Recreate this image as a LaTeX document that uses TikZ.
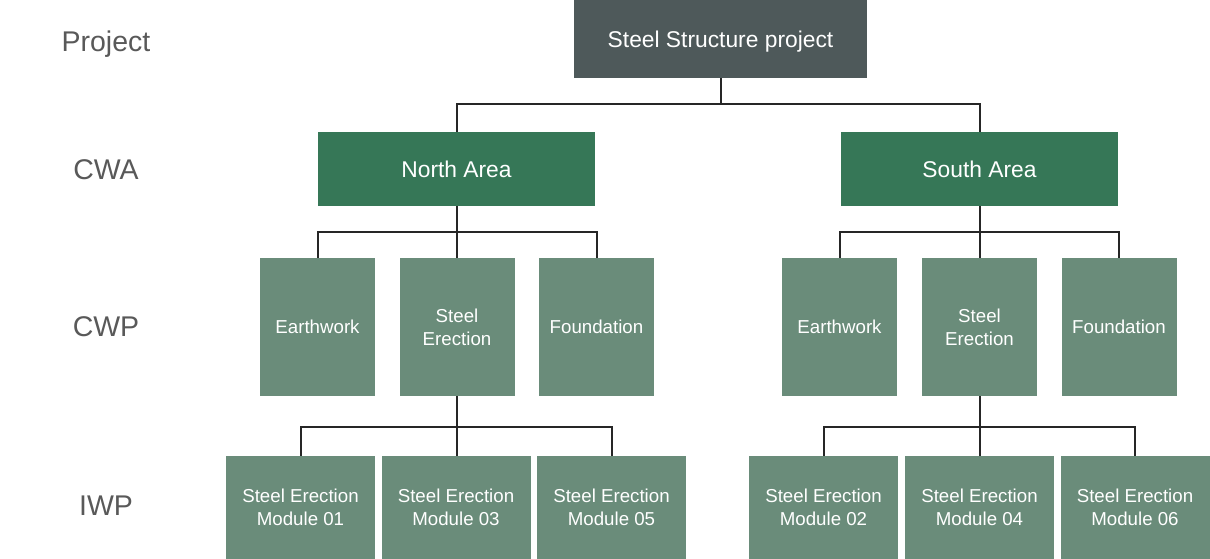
\documentclass[tikz,border=0pt]{standalone}
\usepackage{fontspec}
\setmainfont{Liberation Sans}
\definecolor{topc}{HTML}{4E595A}
\definecolor{areac}{HTML}{367757}
\definecolor{pkgc}{HTML}{6A8C7A}
\definecolor{labc}{HTML}{595959}
\begin{document}
\begin{tikzpicture}[x=1pt,y=-1pt,
  box/.style={draw=none,inner sep=0pt,align=center,text=white},
  topbox/.style={box,fill=topc,minimum width=293pt,minimum height=78pt,text depth=0pt,font=\fontsize{22.8}{26}\selectfont},
  areabox/.style={box,fill=areac,minimum width=277pt,minimum height=74pt,font=\fontsize{22.8}{26}\selectfont},
  cwpbox/.style={box,fill=pkgc,minimum width=115pt,minimum height=138pt,font=\fontsize{18.7}{23}\selectfont},
  iwpbox/.style={box,fill=pkgc,minimum width=149pt,minimum height=103pt,font=\fontsize{18.7}{23}\selectfont},
  lvl/.style={text=labc,text depth=0pt,font=\fontsize{28.5}{32}\selectfont},
  conn/.style={draw=black!85,line width=2pt}]
\useasboundingbox (0,0) rectangle (1210,559);
% levels
\node[lvl] (lp) at (106,41) {Project};
\node[lvl] (lcwa) at (106,169.5) {CWA};
\node[lvl] (lcwp) at (106,327) {CWP};
\node[lvl] (liwp) at (106,505.5) {IWP};
% nodes
\node[topbox] (top) at (720.5,39) {Steel Structure project};
\node[areabox] (na) at (456.5,169) {North Area};
\node[areabox] (sa) at (979.5,169) {South Area};
\node[cwpbox] (n1) at (317.5,327) {Earthwork};
\node[cwpbox] (n2) at (457,327) {Steel\\Erection};
\node[cwpbox] (n3) at (596.5,327) {Foundation};
\node[cwpbox] (s1) at (839.5,327) {Earthwork};
\node[cwpbox] (s2) at (979.5,327) {Steel\\Erection};
\node[cwpbox] (s3) at (1119,327) {Foundation};
\node[iwpbox] (m1) at (300.5,507.5) {Steel Erection\\Module 01};
\node[iwpbox] (m3) at (456,507.5) {Steel Erection\\Module 03};
\node[iwpbox] (m5) at (611.5,507.5) {Steel Erection\\Module 05};
\node[iwpbox] (m2) at (823.5,507.5) {Steel Erection\\Module 02};
\node[iwpbox] (m4) at (979.5,507.5) {Steel Erection\\Module 04};
\node[iwpbox] (m6) at (1135,507.5) {Steel Erection\\Module 06};
% connectors
\draw[conn] (top.south) -- ++(0,26) coordinate (tj);
\draw[conn] (na.north) |- (tj) -| (sa.north);
\draw[conn] (na.south) -- ++(0,26) coordinate (nj);
\draw[conn] (n1.north) |- (nj) -| (n3.north);
\draw[conn] (nj) -- (nj |- n2.north);
\draw[conn] (sa.south) -- ++(0,26) coordinate (sj);
\draw[conn] (s1.north) |- (sj) -| (s3.north);
\draw[conn] (sj) -- (s2.north);
\draw[conn] (n2.south) -- ++(0,31) coordinate (nj2);
\draw[conn] (m1.north) |- (nj2) -| (m5.north);
\draw[conn] (nj2) -- (nj2 |- m3.north);
\draw[conn] (s2.south) -- ++(0,31) coordinate (sj2);
\draw[conn] (m2.north) |- (sj2) -| (m6.north);
\draw[conn] (sj2) -- (m4.north);
\end{tikzpicture}
\end{document}
